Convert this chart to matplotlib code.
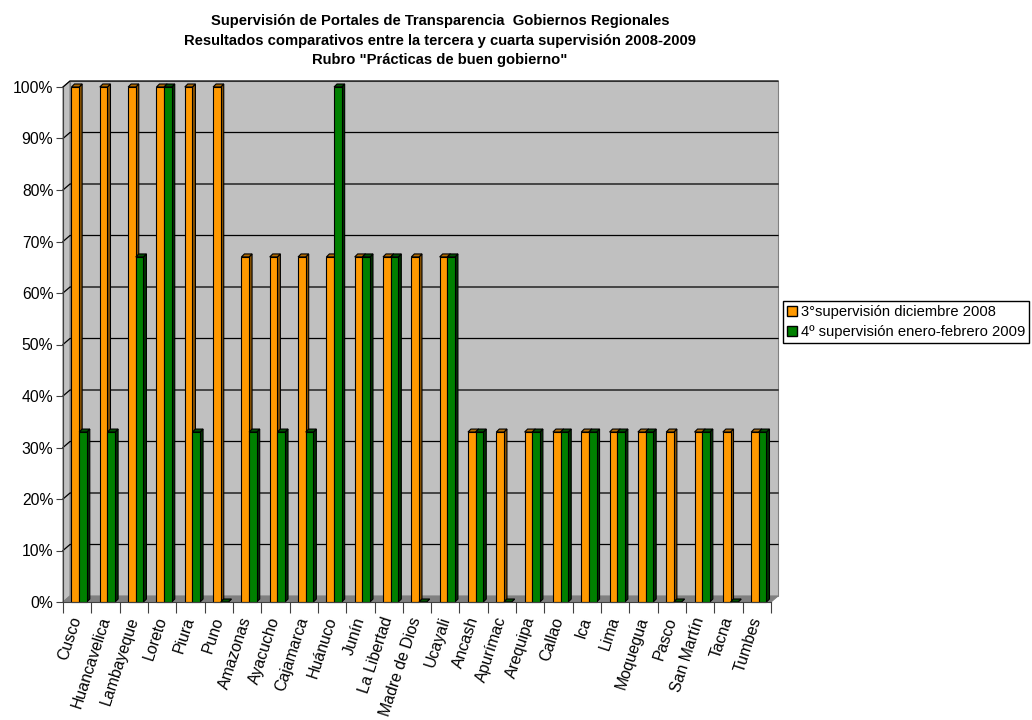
import matplotlib.pyplot as plt
from matplotlib.patches import Polygon, Patch
import numpy as np

plt.rcParams['font.family'] = ['Liberation Sans', 'DejaVu Sans']

regiones = ['Cusco', 'Huancavelica', 'Lambayeque', 'Loreto', 'Piura', 'Puno',
            'Amazonas', 'Ayacucho', 'Cajamarca', 'Huánuco', 'Junín', 'La Libertad',
            'Madre de Dios', 'Ucayali', 'Ancash', 'Apurímac', 'Arequipa', 'Callao',
            'Ica', 'Lima', 'Moquegua', 'Pasco', 'San Martín', 'Tacna', 'Tumbes']
tercera = [100, 100, 100, 100, 100, 100, 67, 67, 67, 67, 67, 67, 67, 67,
           33, 33, 33, 33, 33, 33, 33, 33, 33, 33, 33]
cuarta = [33, 33, 67, 100, 33, 0, 33, 33, 33, 100, 67, 67, 0, 67,
          33, 0, 33, 33, 33, 33, 33, 0, 33, 0, 33]
series = ['3°supervisión diciembre 2008', '4º supervisión enero-febrero 2009']
titulo = ('Supervisión de Portales de Transparencia  Gobiernos Regionales\n'
          'Resultados comparativos entre la tercera y cuarta supervisión 2008-2009\n'
          'Rubro "Prácticas de buen gobierno"')

W, H = 1032, 720
fig = plt.figure(figsize=(W / 100, H / 100), dpi=100)
x0, x1, y0, y1 = 63, 771, 87, 602  # front plane in pixels
ax = fig.add_axes([x0 / W, 1 - y1 / H, (x1 - x0) / W, (y1 - y0) / H])
n = len(regiones)
ax.set_xlim(0, n)
ax.set_ylim(0, 100)
ax.patch.set_visible(False)

# pixel -> data conversion
px_x = n / (x1 - x0)
px_y = 100 / (y1 - y0)
wdx, wdy = 7 * px_x, 6 * px_y   # wall depth
bdx, bdy = 3 * px_x, 3 * px_y   # bar depth

def poly(pts, **kw):
    ax.add_patch(Polygon(pts, closed=True, clip_on=False, **kw))

# back wall, side wall, floor
poly([(wdx, wdy), (n + wdx, wdy), (n + wdx, 100 + wdy), (wdx, 100 + wdy)],
     facecolor='#c0c0c0', edgecolor='#808080', lw=0.8, zorder=0)
poly([(0, 0), (wdx, wdy), (wdx, 100 + wdy), (0, 100)],
     facecolor='#c0c0c0', edgecolor='#808080', lw=0.8, zorder=0)
poly([(0, 0), (n, 0), (n + wdx, wdy), (wdx, wdy)],
     facecolor='#808080', edgecolor='#808080', lw=0.8, zorder=0.5)
for g in range(10, 101, 10):
    ax.plot([0, wdx, n + wdx], [g, g + wdy, g + wdy], color='black', lw=0.9,
            zorder=0.6, clip_on=False)

def bar3d(x, w, h, face, side, top):
    poly([(x + w, 0), (x + w + bdx, bdy), (x + w + bdx, h + bdy), (x + w, h)],
         facecolor=side, edgecolor='black', lw=0.8, zorder=2)
    poly([(x, h), (x + w, h), (x + w + bdx, h + bdy), (x + bdx, h + bdy)],
         facecolor=top, edgecolor='black', lw=0.8, zorder=2)
    if h > 0:
        poly([(x, 0), (x + w, 0), (x + w, h), (x, h)],
             facecolor=face, edgecolor='black', lw=0.8, zorder=2)

bw = 0.27
for i in range(n):
    bar3d(i + 0.30, bw, tercera[i], '#ff9900', '#8c5400', '#b36b00')
    bar3d(i + 0.30 + bw, bw, cuarta[i], '#008000', '#003300', '#005000')

# axes
for s in ['top', 'right']:
    ax.spines[s].set_visible(False)
ax.spines['left'].set_color('#404040')
ax.spines['bottom'].set_color('#404040')
ax.set_yticks(range(0, 101, 10))
ax.set_yticklabels([f'{v}%' for v in range(0, 101, 10)], fontsize=11.3)
ax.tick_params(axis='y', length=5, color='#404040', pad=2)
ax.set_xticks(np.arange(n + 1))
ax.set_xticklabels([])
ax.tick_params(axis='x', which='major', length=8, color='#404040')
ax.set_xticks(np.arange(n) + 0.5, minor=True)
ax.set_xticklabels(regiones, minor=True, rotation=72, ha='right', va='center',
                   rotation_mode='anchor', fontsize=11.4)
ax.tick_params(axis='x', which='minor', length=0, pad=11)

fig.text(440 / W, 1 - 14 / H, titulo, ha='center', va='top', fontsize=10.6,
         fontweight='bold', linespacing=1.5)

handles = [Patch(facecolor='#ff9900', edgecolor='black'),
           Patch(facecolor='#008000', edgecolor='black')]
fig.legend(handles, series, loc='center left',
           bbox_to_anchor=(783 / W, 1 - 322 / H), fontsize=10.6, frameon=True,
           fancybox=False, edgecolor='black', framealpha=1, borderpad=0.3,
           handlelength=0.65, handleheight=0.65, handletextpad=0.25,
           labelspacing=0.4, borderaxespad=0)

fig.savefig('out.png', dpi=100)
